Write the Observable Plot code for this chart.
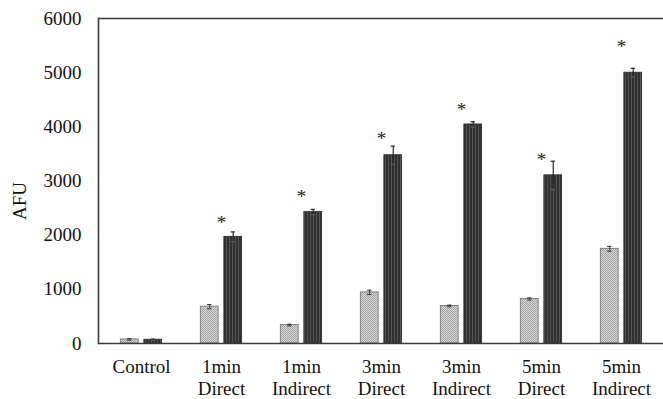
<!DOCTYPE html>
<html>
<head>
<meta charset="utf-8">
<script src="https://cdn.jsdelivr.net/npm/d3@7"></script>
<script src="https://cdn.jsdelivr.net/npm/@observablehq/plot@0.6"></script>
<style>
  html, body { margin: 0; padding: 0; background: #fff; }
  #chart { width: 663px; height: 399px; }
</style>
</head>
<body>
<svg width="0" height="0" style="position:absolute">
  <defs>
    <pattern id="lightHatch" patternUnits="userSpaceOnUse" width="2" height="2">
      <rect width="2" height="2" fill="#d8d8d8"></rect>
      <rect x="0" y="0" width="1" height="1" fill="#a2a2a2"></rect>
      <rect x="1" y="1" width="1" height="1" fill="#a2a2a2"></rect>
    </pattern>
    <pattern id="darkStripe" patternUnits="userSpaceOnUse" width="3" height="3">
      <rect width="3" height="3" fill="#303030"></rect>
      <line x1="1.5" y1="0" x2="1.5" y2="3" stroke="#555" stroke-width="1"></line>
    </pattern>
  </defs>
</svg>
<div id="chart"></div>
<script>
const categories = ["Control", "1min\nDirect", "1min\nIndirect", "3min\nDirect", "3min\nIndirect", "5min\nDirect", "5min\nIndirect"];
const lightValues = [75, 680, 340, 944, 693, 822, 1748];
const lightErrors = [15, 40, 15, 40, 15, 20, 45];
const darkValues = [70, 1970, 2426, 3476, 4044, 3105, 5000];
const darkErrors = [10, 90, 50, 167, 50, 260, 80];
const starPositions = [null, 2272, 2735, 3809, 4352, 3420, 5513];
const yTicks = [0, 1000, 2000, 3000, 4000, 5000, 6000];
const yLabel = "AFU";

const W = 663, H = 399, mL = 98, mR = 0, mT = 18, mB = 56;
const bw = (W - mL - mR) / categories.length;
const half = bw / 2;
const barOffOuter = 21, barOffInner = 2.5;
const errOff = (barOffOuter + barOffInner) / 2;
const capHalf = 2.5;

const rows = categories.map((c, i) => ({
  cat: c,
  light: lightValues[i], lightErr: lightErrors[i],
  dark: darkValues[i], darkErr: darkErrors[i],
  star: starPositions[i]
}));

const lineColor = "#3a3a3a";
const chart = Plot.plot({
  width: W, height: H,
  marginLeft: mL, marginRight: mR, marginTop: mT, marginBottom: mB,
  style: { fontFamily: "'Liberation Serif', 'Times New Roman', serif", fontSize: "19px", color: "#111", background: "#fff" },
  x: { type: "band", domain: categories, padding: 0, axis: null },
  y: { domain: [0, 6000], axis: null },
  marks: [
    Plot.barY(rows, { x: "cat", y: "light", fill: "url(#lightHatch)", stroke: "#777", strokeWidth: 0.9,
      insetLeft: half - barOffOuter, insetRight: half + barOffInner }),
    Plot.barY(rows, { x: "cat", y: "dark", fill: "url(#darkStripe)", stroke: "#2a2a2a", strokeWidth: 0.8,
      insetLeft: half + barOffInner, insetRight: half - barOffOuter }),
    // error bars light
    Plot.ruleX(rows, { x: "cat", y1: d => d.light - d.lightErr, y2: d => d.light + d.lightErr, dx: -errOff, stroke: "#333", strokeWidth: 1 }),
    Plot.tickY(rows, { x: "cat", y: d => d.light + d.lightErr, stroke: "#333", strokeWidth: 1,
      insetLeft: half - errOff - capHalf, insetRight: half + errOff - capHalf }),
    Plot.tickY(rows, { x: "cat", y: d => d.light - d.lightErr, stroke: "#333", strokeWidth: 1,
      insetLeft: half - errOff - capHalf, insetRight: half + errOff - capHalf }),
    // error bars dark
    Plot.ruleX(rows, { x: "cat", y1: d => d.dark - d.darkErr, y2: d => d.dark + d.darkErr, dx: errOff, stroke: "#2a2a2a", strokeWidth: 1.2 }),
    Plot.tickY(rows, { x: "cat", y: d => d.dark + d.darkErr, stroke: "#2a2a2a", strokeWidth: 1.2,
      insetLeft: half + errOff - capHalf, insetRight: half - errOff - capHalf }),
    Plot.tickY(rows, { x: "cat", y: d => d.dark - d.darkErr, stroke: "#666", strokeWidth: 1,
      insetLeft: half + errOff - capHalf, insetRight: half - errOff - capHalf }),
    // significance stars
    Plot.text(rows.filter(d => d.star != null), { x: "cat", y: "star", text: () => "*", fontSize: 19, dy: 2, fill: "#222" }),
    // frame lines: top, left, bottom
    Plot.ruleY([0, 6000], { stroke: lineColor, strokeWidth: 1.6 }),
    Plot.frame({ anchor: "left", stroke: lineColor, strokeWidth: 1.6 }),
    // axes
    Plot.axisY(yTicks, { tickSize: 0, tickPadding: 17, label: null, fontSize: 19, fill: "#111", tickFormat: d3.format("d") }),
    Plot.axisX({ tickSize: 0, tickPadding: 14, label: null, fontSize: 19, lineHeight: 1.15, fill: "#111" }),
    Plot.text([yLabel], { frameAnchor: "left", rotate: -90, dx: -79, dy: 39, fontSize: 19, fill: "#111" })
  ]
});
document.getElementById("chart").appendChild(chart);
</script>
</body>
</html>
